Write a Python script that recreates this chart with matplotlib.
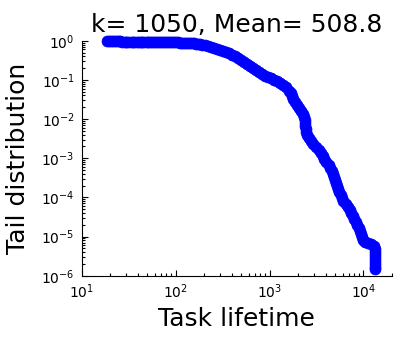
import matplotlib
matplotlib.use("Agg")
import matplotlib.pyplot as plt

title = "k= 1050, Mean= 508.8"
xlabel = "Task lifetime"
ylabel = "Tail distribution"

# Task lifetime values
lifetime = [
    18.4, 19.3, 20.3, 21.3, 22.4, 23.5, 24.7, 25.9, 27.2, 28.6,
    30.0, 31.5, 33.1, 34.8, 36.5, 38.4, 40.3, 42.3, 44.4, 46.6,
    49.0, 51.4, 54.0, 56.7, 59.6, 62.6, 65.7, 69.0, 72.5, 76.1,
    80.0, 84.0, 88.2, 92.6, 97.3, 102.2, 107.3, 112.7, 118.4, 124.3,
    130.6, 137.1, 144.0, 151.2, 158.8, 166.8, 175.2, 184.0, 193.2,
    208.0, 223.8, 240.9, 259.3, 279.1, 300.4, 323.3, 348.0, 374.5, 403.1,
    433.9, 467.0, 502.6, 541.0, 582.3, 626.7, 674.5, 726.0, 781.4, 841.0,
    905.2, 974.3, 1048.6, 1128.6, 1214.7, 1307.4, 1407.1, 1514.5, 1630.0,
    1678, 1728, 1771, 1860, 1963, 2072, 2165, 2246, 2308, 2359,
    2388, 2412, 2429, 2459, 2508, 2602, 2747, 2920, 3128, 3367,
    3518, 3677, 3843, 4036, 4250, 4442, 4620, 4758, 4875, 4985,
    5133, 5272, 5390, 5537, 5703, 5873, 6124, 6527, 6838, 7112,
    7379, 7655, 7943, 8240, 8548, 8868, 9156, 9382, 9568, 9782,
    10400, 11190, 12050, 12970,
    13290, 13290, 13290, 13290, 13290, 13290, 13290, 13290,
]
# Tail distribution values at those lifetimes
tail = [
    0.982, 0.980, 0.977, 0.971, 0.965, 0.962, 0.960, 0.957, 0.954, 0.952,
    0.951, 0.949, 0.948, 0.945, 0.943, 0.941, 0.940, 0.938, 0.937, 0.936,
    0.935, 0.933, 0.932, 0.930, 0.929, 0.927, 0.926, 0.923, 0.921, 0.919,
    0.918, 0.917, 0.916, 0.913, 0.910, 0.907, 0.905, 0.899, 0.894, 0.889,
    0.884, 0.878, 0.873, 0.866, 0.858, 0.846, 0.834, 0.817, 0.800,
    0.768, 0.732, 0.695, 0.663, 0.625, 0.589, 0.556, 0.518, 0.483, 0.442,
    0.402, 0.357, 0.323, 0.286, 0.256, 0.226, 0.200, 0.1766, 0.1561, 0.1396,
    0.1278, 0.1184, 0.1090, 0.1004, 0.0925, 0.0837, 0.0748, 0.0658, 0.0535,
    0.04623, 0.03875, 0.03248, 0.02723, 0.02283, 0.01913, 0.01604, 0.01345, 0.01127, 0.00945,
    0.00792, 0.00664, 0.00557, 0.00467, 0.00391, 0.00328, 0.00275, 0.00231, 0.00193, 0.00162,
    0.001358, 0.001138, 0.000954, 0.000800, 0.000671, 0.000562, 0.000472, 0.000395, 0.000331, 0.000278,
    0.000233, 0.000195, 0.0001637, 0.0001372, 0.0001150, 9.64e-5, 8.08e-5, 6.78e-5, 5.68e-5, 4.76e-5,
    3.99e-5, 3.35e-5, 2.81e-5, 2.35e-5, 1.97e-5, 1.65e-5, 1.39e-5, 1.16e-5, 9.74e-6, 8.17e-6,
    7.05e-6, 6.65e-6, 6.27e-6, 5.74e-6,
    4.81e-6, 4.03e-6, 3.38e-6, 2.83e-6, 2.38e-6, 1.99e-6, 1.67e-6, 1.48e-6,
]

fig = plt.figure(figsize=(4.01, 3.43), dpi=100)
ax = fig.add_axes([0.2037, 0.1962, 0.7731, 0.6851])
ax.plot(lifetime, tail, linestyle='none', marker='o', markersize=7.8,
        markerfacecolor='blue', markeredgecolor='blue', markeredgewidth=0.6,
        clip_on=False, zorder=3)
ax.set_xscale('log')
ax.set_yscale('log')
ax.set_xlim(10, 2e4)
ax.set_ylim(1e-6, 1)
ax.spines['top'].set_visible(False)
ax.spines['right'].set_visible(False)
ax.tick_params(which='both', direction='in', top=False, right=False, labelsize=10, width=0.8)
ax.tick_params(which='major', length=4, pad=5)
ax.tick_params(which='minor', length=2)
ax.set_title(title, fontsize=18, pad=6)
ax.set_xlabel(xlabel, fontsize=18, labelpad=4)
ax.set_ylabel(ylabel, fontsize=18, labelpad=8)
fig.savefig("out.png", dpi=100)
